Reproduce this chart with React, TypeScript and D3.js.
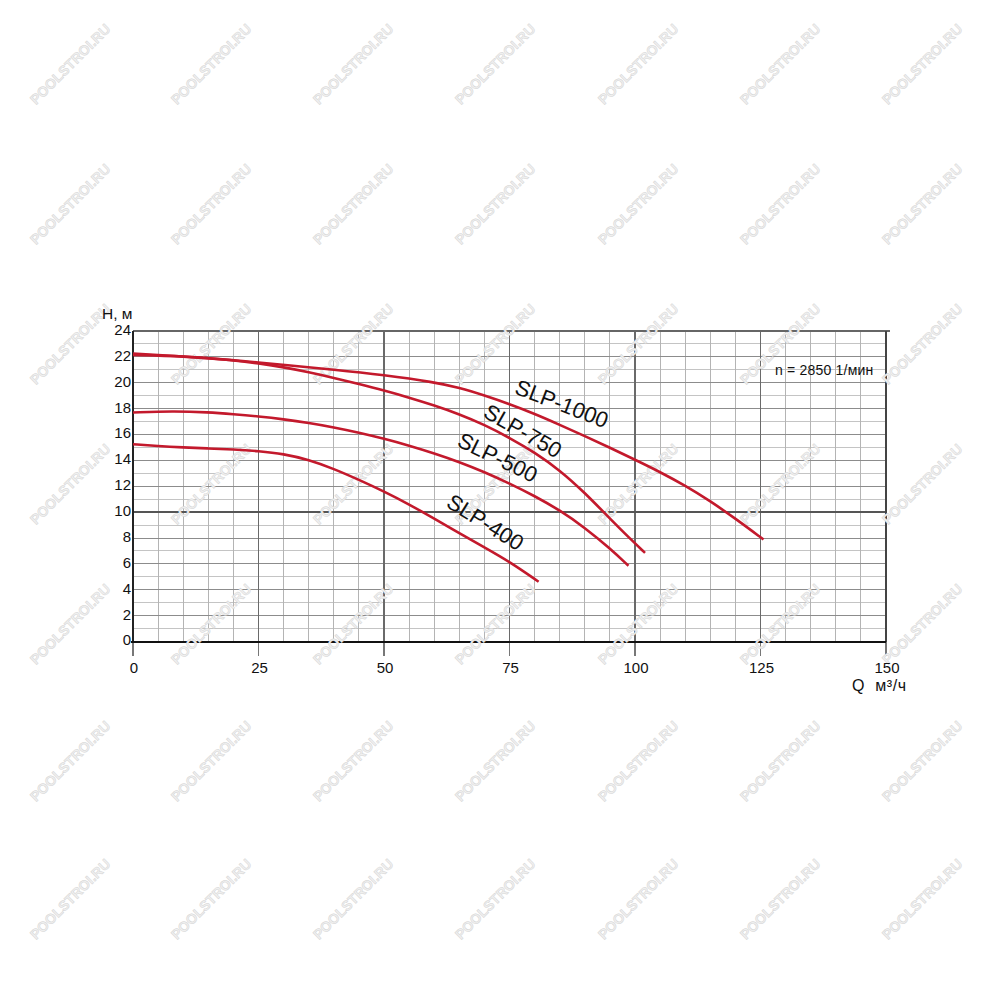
import React from "react";
import * as d3 from "d3";

const xTicks = [0, 25, 50, 75, 100, 125, 150];
const yTicks = [0, 2, 4, 6, 8, 10, 12, 14, 16, 18, 20, 22, 24];

const slp1000Q = [0, 10, 20, 25, 30, 40, 50, 60, 65, 70, 75, 80, 85, 90, 95, 100, 105, 110, 115, 120, 125.6];
const slp1000H = [22.25, 22.05, 21.75, 21.57, 21.38, 21.02, 20.6, 20.05, 19.62, 19.02, 18.35, 17.6, 16.75, 15.88, 14.98, 14.05, 13.1, 12.05, 10.85, 9.5, 7.88];

const slp750Q = [0, 10, 20, 25, 30, 35, 40, 45, 50, 55, 60, 65, 70, 75, 80, 85, 90, 95, 99, 102];
const slp750H = [22.15, 22.05, 21.75, 21.5, 21.2, 20.82, 20.38, 19.9, 19.4, 18.85, 18.25, 17.57, 16.75, 15.75, 14.62, 13.25, 11.5, 9.5, 7.95, 6.85];

const slp500Q = [0, 8, 15, 20, 25, 30, 35, 40, 45, 50, 55, 60, 65, 70, 75, 80, 85, 90, 95, 98.7];
const slp500H = [17.7, 17.82, 17.72, 17.57, 17.4, 17.18, 16.9, 16.56, 16.15, 15.68, 15.15, 14.55, 13.88, 13.1, 12.22, 11.25, 10.15, 8.8, 7.2, 5.85];

const slp400Q = [0, 5, 10, 15, 20, 25, 30, 35, 40, 45, 50, 55, 60, 65, 70, 75, 80.8];
const slp400H = [15.25, 15.1, 15.0, 14.92, 14.85, 14.72, 14.5, 14.05, 13.35, 12.5, 11.6, 10.6, 9.5, 8.38, 7.27, 6.17, 4.62];

const seriesNames = ["SLP-1000", "SLP-750", "SLP-500", "SLP-400"];
const labelQ = [85.3, 77.5, 72.5, 70];
const labelH = [18.25, 16.15, 14.1, 9.1];
const labelAngle = [21, 30, 26, 32];

const speedText = "n = 2850 1/мин";
const yTitle = "H, м";
const xTitle = "Q  м³/ч";
const watermark = "POOLSTROI.RU";

const W = 1000;
const H = 1000;
const x = d3.scaleLinear().domain([0, 150]).range([133, 886]);
const y = d3.scaleLinear().domain([0, 24]).range([641.5, 331]);

const RED = "#c3192c";
const FONT = "'Liberation Sans', Arial, sans-serif";

export default function App() {
  const series = [
    { q: slp1000Q, h: slp1000H },
    { q: slp750Q, h: slp750H },
    { q: slp500Q, h: slp500H },
    { q: slp400Q, h: slp400H },
  ];
  const line = d3
    .line<[number, number]>()
    .x((d) => x(d[0]))
    .y((d) => y(d[1]))
    .curve(d3.curveBasis);

  const vMinor = d3.range(5, 150, 5).filter((v) => v % 25 !== 0);
  const vMajor = [25, 50, 75, 100, 125];
  const hOdd = d3.range(1, 24, 2);
  const hEven = d3.range(2, 24, 2).filter((v) => v !== 10);

  const wmX = [71, 212, 354, 496, 639, 781, 923];
  const wmY = [65, 205, 345, 485, 625, 762, 900];

  return (
    <svg
      width={W}
      height={H}
      viewBox={`0 0 ${W} ${H}`}
      style={{ position: "absolute", left: 0, top: 0, background: "#fff" }}
      fontFamily={FONT}
    >
      <rect x={0} y={0} width={W} height={H} fill="#fff" />
      {/* grid */}
      <g shapeRendering="crispEdges">
        {hOdd.map((v) => (
          <line key={"ho" + v} x1={x(0)} x2={x(150)} y1={y(v)} y2={y(v)} stroke="#c4c4c4" strokeWidth={1} />
        ))}
        {vMinor.map((v) => (
          <line key={"vm" + v} x1={x(v)} x2={x(v)} y1={y(0)} y2={y(24)} stroke="#b4b4b4" strokeWidth={1} />
        ))}
        {hEven.map((v) => (
          <line key={"he" + v} x1={x(0)} x2={x(150)} y1={y(v)} y2={y(v)} stroke="#8c8c8c" strokeWidth={1} />
        ))}
        {vMajor.map((v) => (
          <line key={"vM" + v} x1={x(v)} x2={x(v)} y1={y(0)} y2={y(24)} stroke="#6a6a6a" strokeWidth={1.2} />
        ))}
        <line x1={x(0)} x2={x(150)} y1={y(10)} y2={y(10)} stroke="#555" strokeWidth={1.6} />
        <line x1={x(0)} x2={x(150) + 4} y1={y(24)} y2={y(24)} stroke="#666" strokeWidth={1.2} />
        <line x1={x(150)} x2={x(150)} y1={y(0)} y2={y(24)} stroke="#444" strokeWidth={1.4} />
        {xTicks.map((v) => (
          <line key={"t" + v} x1={x(v)} x2={x(v)} y1={y(0)} y2={y(0) + 14} stroke="#777" strokeWidth={1.4} />
        ))}
        <line x1={x(0)} x2={x(0)} y1={y(0)} y2={y(24)} stroke="#222" strokeWidth={1.6} />
        <line x1={x(0) - 2} x2={x(150)} y1={y(0)} y2={y(0)} stroke="#111" strokeWidth={2} />
      </g>

      {/* watermarks */}
      <g fill="#f0f0f0" stroke="#d4d4d4" strokeWidth={0.5} fontSize={14} fontWeight="bold">
        {wmY.map((wy) =>
          wmX.map((wx) => (
            <text
              key={wx + "-" + wy}
              x={wx}
              y={wy}
              textAnchor="middle"
              dominantBaseline="middle"
              transform={`rotate(-45 ${wx} ${wy})`}
            >
              {watermark}
            </text>
          ))
        )}
      </g>

      {/* curves */}
      <g fill="none" stroke={RED} strokeWidth={2.6} strokeLinecap="butt">
        {series.map((s, i) => (
          <path key={i} d={line(s.q.map((q, j) => [q, s.h[j]] as [number, number])) || ""} />
        ))}
      </g>

      {/* curve labels */}
      <g fontSize={22} fill="#111">
        {seriesNames.map((n, i) => (
          <text
            key={n}
            x={x(labelQ[i])}
            y={y(labelH[i])}
            textAnchor="middle"
            dominantBaseline="middle"
            transform={`rotate(${labelAngle[i]} ${x(labelQ[i])} ${y(labelH[i])})`}
          >
            {n}
          </text>
        ))}
      </g>

      {/* axis labels */}
      <g fontSize={15} fill="#111">
        {yTicks.map((v) => (
          <text key={"yl" + v} x={131} y={y(v)} textAnchor="end" dominantBaseline="middle">
            {v}
          </text>
        ))}
        {xTicks.map((v) => (
          <text key={"xl" + v} x={x(v) + 1} y={673} textAnchor="middle">
            {v}
          </text>
        ))}
        <text x={102} y={319} fontSize={15.5}>
          {yTitle}
        </text>
        <text x={852} y={691} fontSize={16} letterSpacing={0.6} style={{ whiteSpace: "pre" }}>
          {xTitle}
        </text>
      </g>
      <text x={775} y={375} fontSize={14} fill="#111" letterSpacing={0.2}>
        {speedText}
      </text>
    </svg>
  );
}
